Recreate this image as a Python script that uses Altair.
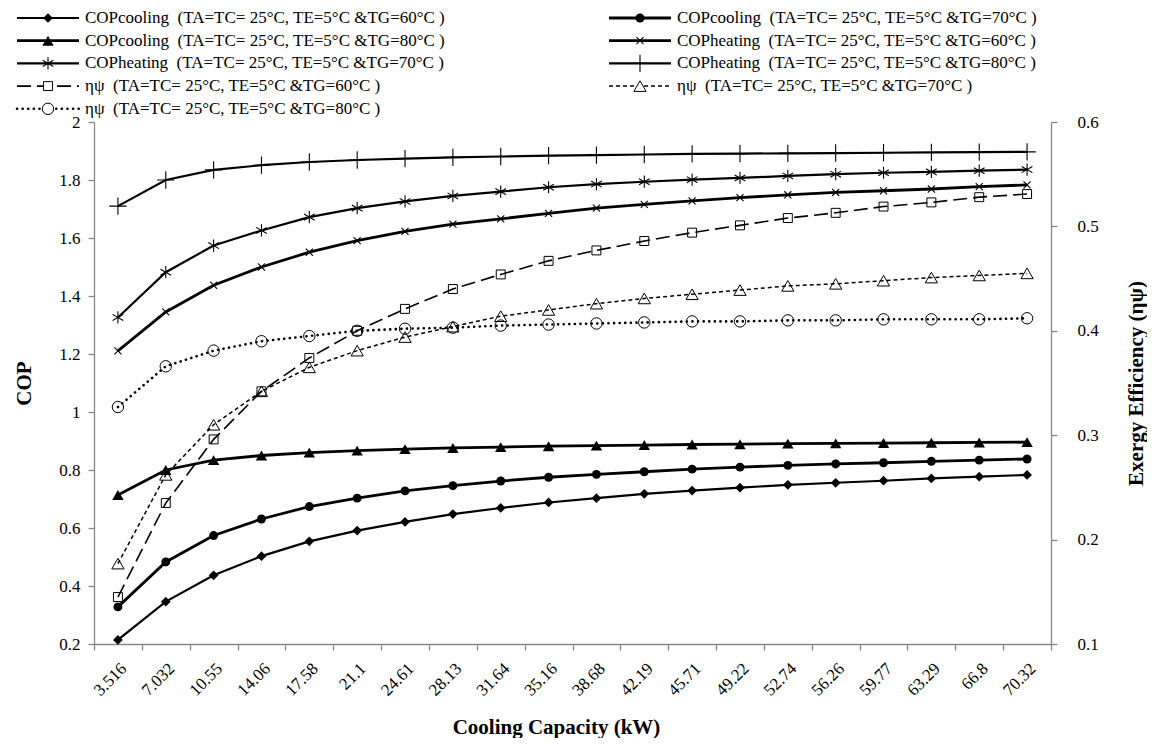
import altair as alt
import pandas as pd

# ---------------- data ----------------
capacity = ["3.516", "7.032", "10.55", "14.06", "17.58", "21.1", "24.61", "28.13",
            "31.64", "35.16", "38.68", "42.19", "45.71", "49.22", "52.74", "56.26",
            "59.77", "63.29", "66.8", "70.32"]

cop_cooling_60 = [0.214, 0.346, 0.437, 0.503, 0.554, 0.591, 0.621, 0.648, 0.669, 0.688,
                  0.703, 0.718, 0.729, 0.739, 0.749, 0.756, 0.763, 0.771, 0.777, 0.783]
cop_cooling_70 = [0.328, 0.483, 0.574, 0.631, 0.674, 0.703, 0.728, 0.746, 0.762, 0.775,
                  0.785, 0.794, 0.803, 0.810, 0.816, 0.821, 0.825, 0.830, 0.834, 0.838]
cop_cooling_80 = [0.714, 0.800, 0.834, 0.850, 0.860, 0.867, 0.872, 0.876, 0.879, 0.882,
                  0.884, 0.886, 0.888, 0.889, 0.891, 0.892, 0.893, 0.894, 0.895, 0.896]
cop_heating_60 = [1.211, 1.345, 1.437, 1.500, 1.551, 1.591, 1.623, 1.648, 1.666, 1.685,
                  1.703, 1.716, 1.728, 1.739, 1.749, 1.757, 1.763, 1.769, 1.777, 1.783]
cop_heating_70 = [1.326, 1.482, 1.574, 1.626, 1.672, 1.703, 1.726, 1.745, 1.760, 1.775,
                  1.786, 1.794, 1.801, 1.807, 1.814, 1.820, 1.825, 1.828, 1.832, 1.836]
cop_heating_80 = [1.710, 1.800, 1.835, 1.851, 1.862, 1.869, 1.874, 1.878, 1.881, 1.884,
                  1.886, 1.888, 1.890, 1.891, 1.892, 1.893, 1.894, 1.895, 1.896, 1.897]
eta_60 = [0.145, 0.235, 0.296, 0.342, 0.374, 0.400, 0.421, 0.440, 0.454, 0.467,
          0.477, 0.486, 0.494, 0.501, 0.508, 0.513, 0.519, 0.523, 0.528, 0.531]
eta_70 = [0.177, 0.262, 0.310, 0.342, 0.365, 0.381, 0.394, 0.404, 0.414, 0.420,
          0.426, 0.431, 0.435, 0.439, 0.443, 0.445, 0.448, 0.451, 0.453, 0.455]
eta_80 = [0.327, 0.366, 0.381, 0.390, 0.395, 0.400, 0.402, 0.403, 0.405, 0.406,
          0.407, 0.408, 0.409, 0.409, 0.410, 0.410, 0.411, 0.411, 0.411, 0.412]

NB = "\u00a0"
series_names = ["cool60", "cool70", "cool80", "heat60", "heat70", "heat80", "eta60", "eta70", "eta80"]
series_labels = [
    "COPcooling " + NB + "(TA=TC= 25°C, TE=5°C &TG=60°C )",
    "COPcooling " + NB + "(TA=TC= 25°C, TE=5°C &TG=70°C )",
    "COPcooling " + NB + "(TA=TC= 25°C, TE=5°C &TG=80°C )",
    "COPheating " + NB + "(TA=TC= 25°C, TE=5°C &TG=60°C )",
    "COPheating " + NB + "(TA=TC= 25°C, TE=5°C &TG=70°C )",
    "COPheating " + NB + "(TA=TC= 25°C, TE=5°C &TG=80°C )",
    "ηψ " + NB + "(TA=TC= 25°C, TE=5°C &TG=60°C )",
    "ηψ " + NB + "(TA=TC= 25°C, TE=5°C &TG=70°C )",
    "ηψ " + NB + "(TA=TC= 25°C, TE=5°C &TG=80°C )",
]
series_values = [cop_cooling_60, cop_cooling_70, cop_cooling_80,
                 cop_heating_60, cop_heating_70, cop_heating_80,
                 eta_60, eta_70, eta_80]
series_axis = ["cop"] * 6 + ["eta"] * 3
legend_col = [0, 1, 0, 1, 0, 1, 0, 1, 0]
legend_row = [0, 0, 1, 1, 2, 2, 3, 3, 4]

# ---------------- styles ----------------
X_PATH = "M-1,-1L1,1M-1,1L1,-1"
AST_PATH = "M0,-1L0,1M-0.87,-0.5L0.87,0.5M-0.87,0.5L0.87,-0.5"
PLUS_PATH = "M0,-1L0,1M-1,0L1,0"
styles = {
    "cool60": dict(shape="diamond", filled=True, size=95, lw=2.2, dash=None, cap="butt", pw=1),
    "cool70": dict(shape="circle", filled=True, size=80, lw=2.8, dash=None, cap="butt", pw=1),
    "cool80": dict(shape="triangle-up", filled=True, size=130, lw=2.8, dash=None, cap="butt", pw=1),
    "heat60": dict(shape=X_PATH, filled=False, size=50, lw=2.8, dash=None, cap="butt", pw=1.1),
    "heat70": dict(shape=AST_PATH, filled=False, size=150, lw=2.2, dash=None, cap="butt", pw=1.1),
    "heat80": dict(shape=PLUS_PATH, filled=False, size=300, lw=2.2, dash=None, cap="butt", pw=1.1),
    "eta60": dict(shape="square", filled=False, size=80, lw=1.6, dash=[14, 6], cap="butt", pw=1),
    "eta70": dict(shape="triangle-up", filled=False, size=150, lw=1.5, dash=[4, 3], cap="butt", pw=1),
    "eta80": dict(shape="circle", filled=False, size=130, lw=2.6, dash=[0.1, 5.5], cap="round", pw=1),
}

rows = []
for name, vals, ax in zip(series_names, series_values, series_axis):
    for c, v in zip(capacity, vals):
        rows.append({"series": name, "cap": c, "value": v, "axis": ax})
df = pd.DataFrame(rows)

FONT = "Liberation Serif"
W, H = 957, 522
GRAY = "#878787"

x_enc = alt.X("cap:N", sort=capacity,
              scale=alt.Scale(type="band", paddingInner=0, paddingOuter=0),
              axis=alt.Axis(title="Cooling Capacity (kW)", labelAngle=-45, tickBand="extent",
                            labelAlign="right", labelBaseline="top", titleX=462,
                            tickSize=6, labelPadding=10, titlePadding=18, labelFontSize=17))

y_left = alt.Y("value:Q",
               scale=alt.Scale(domain=[0.2, 2.0], nice=False, zero=False),
               axis=alt.Axis(title="COP", orient="left", values=[0.2, 0.4, 0.6, 0.8, 1.0, 1.2, 1.4, 1.6, 1.8, 2.0],
                             format="~g", tickSize=6, labelPadding=8, titlePadding=24))
y_right = alt.Y("value:Q",
                scale=alt.Scale(domain=[0.1, 0.6], nice=False, zero=False),
                axis=alt.Axis(title="Exergy Efficiency (ηψ)", orient="right", values=[0.1, 0.2, 0.3, 0.4, 0.5, 0.6],
                              format=".1f", tickSize=6, labelPadding=20, titlePadding=48, titleAngle=270))


def series_layers(name, y_enc):
    st = styles[name]
    base = alt.Chart(df).transform_filter(alt.datum.series == name)
    line_kw = dict(color="black", strokeWidth=st["lw"], strokeCap=st["cap"])
    if st["dash"]:
        line_kw["strokeDash"] = st["dash"]
    line = base.mark_line(**line_kw).encode(x=x_enc, y=y_enc)
    if st["filled"]:
        pt = base.mark_point(shape=st["shape"], filled=True, color="black", size=st["size"], opacity=1)
    else:
        pt = base.mark_point(shape=st["shape"], filled=False, stroke="black", fillOpacity=0,
                             strokeWidth=st["pw"], size=st["size"], opacity=1)
    pt = pt.encode(x=x_enc, y=y_enc)
    return [line, pt]


left_layers = []
right_layers = []
for name, ax in zip(series_names, series_axis):
    if ax == "cop":
        left_layers += series_layers(name, y_left)
    else:
        right_layers += series_layers(name, y_right)

main = alt.layer(alt.layer(*left_layers), alt.layer(*right_layers)).resolve_scale(y="independent").properties(
    width=W, height=H)

# ---------------- legend (drawn as its own small panel) ----------------
LW, LH = 957, 112
leg_df = pd.DataFrame({"series": series_names, "label": series_labels,
                       "col": legend_col, "row": legend_row})
lx = alt.Scale(domain=[0, LW], range=[0, LW], clamp=False)
ly = alt.Scale(domain=[0, LH], range=[0, LH], clamp=False)
legend_layers = []
for name in series_names:
    st = styles[name]
    b = (alt.Chart(leg_df).transform_filter(alt.datum.series == name)
         .transform_calculate(xm="datum.col * 592 - 46", ym="datum.row * 22.7 + 10")
         .transform_calculate(xs="datum.xm - 31", xe="datum.xm + 31", xt="datum.xm + 37"))
    rk = dict(color="black", strokeWidth=st["lw"], strokeCap=st["cap"])
    if st["dash"]:
        rk["strokeDash"] = st["dash"]
    legend_layers.append(b.mark_rule(**rk).encode(
        x=alt.X("xs:Q", scale=lx, axis=None), x2="xe:Q", y=alt.Y("ym:Q", scale=ly, axis=None)))
    if st["filled"]:
        pm = b.mark_point(shape=st["shape"], filled=True, color="black", size=st["size"], opacity=1)
    else:
        pm = b.mark_point(shape=st["shape"], filled=False, stroke="black", fill="white", fillOpacity=1,
                          strokeWidth=st["pw"], size=st["size"], opacity=1)
    legend_layers.append(pm.encode(x=alt.X("xm:Q", scale=lx, axis=None), y=alt.Y("ym:Q", scale=ly, axis=None)))
    legend_layers.append(b.mark_text(align="left", baseline="middle", font=FONT, fontSize=17, color="black").encode(
        x=alt.X("xt:Q", scale=lx, axis=None), y=alt.Y("ym:Q", scale=ly, axis=None), text="label:N"))

legend = alt.layer(*legend_layers).properties(width=LW, height=LH)

chart = alt.vconcat(legend, main, spacing=2, bounds="flush").properties(
    padding={"left": 5, "top": 0, "right": 0, "bottom": 0}
).configure_view(stroke=None).configure_axis(
    grid=False, domainColor=GRAY, tickColor=GRAY, domainWidth=1.3, tickWidth=1.3,
    labelFont=FONT, labelFontSize=17, labelColor="black",
    titleFont=FONT, titleFontSize=21, titleFontWeight="bold", titleColor="black"
)

chart.save("out.html", embed_options={"renderer": "svg", "actions": False})
